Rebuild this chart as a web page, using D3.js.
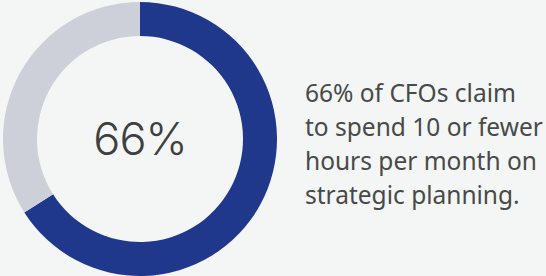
<!DOCTYPE html>
<html>
<head>
<meta charset="utf-8">
<script src="https://d3js.org/d3.v7.min.js"></script>
<style>
  html, body { margin: 0; padding: 0; background: #f4f6f5; }
  svg { display: block; }
</style>
</head>
<body>
<script>
  // data
  var segments = ["CFOs at 10 hours or fewer", "Others"];
  var values = [66, 34];
  var colors = ["#1f388c", "#cdd0d9"];
  var centerLabel = "66%";
  var noteLines = ["66% of CFOs claim", "to spend 10 or fewer", "hours per month on", "strategic planning."];

  var width = 546, height = 276;
  var svg = d3.select("body").append("svg")
      .attr("width", width)
      .attr("height", height);

  svg.append("rect").attr("width", width).attr("height", height).attr("fill", "#f4f6f5");

  var pie = d3.pie().sort(null).value(function(d) { return d; });
  var arc = d3.arc().innerRadius(103).outerRadius(137);

  var g = svg.append("g").attr("transform", "translate(140,139)");

  g.selectAll("path")
    .data(pie(values))
    .enter().append("path")
    .attr("d", arc)
    .attr("fill", function(d, i) { return colors[i]; });

  g.append("text")
    .attr("text-anchor", "middle")
    .attr("y", 16)
    .attr("font-family", "Inter, 'Noto Sans', sans-serif")
    .attr("font-weight", 300)
    .attr("font-size", 45)
    .attr("letter-spacing", -1)
    .attr("fill", "#3d403e")
    .text(centerLabel);

  // note text on the right
  svg.append("g")
    .selectAll("text")
    .data(noteLines)
    .enter().append("text")
    .attr("x", 305)
    .attr("y", function(d, i) { return 102 + i * 34; })
    .attr("font-family", "'Noto Sans', sans-serif")
    .attr("font-size", 24.5)
    .attr("fill", "#474a48")
    .text(function(d) { return d; });
</script>
</body>
</html>
